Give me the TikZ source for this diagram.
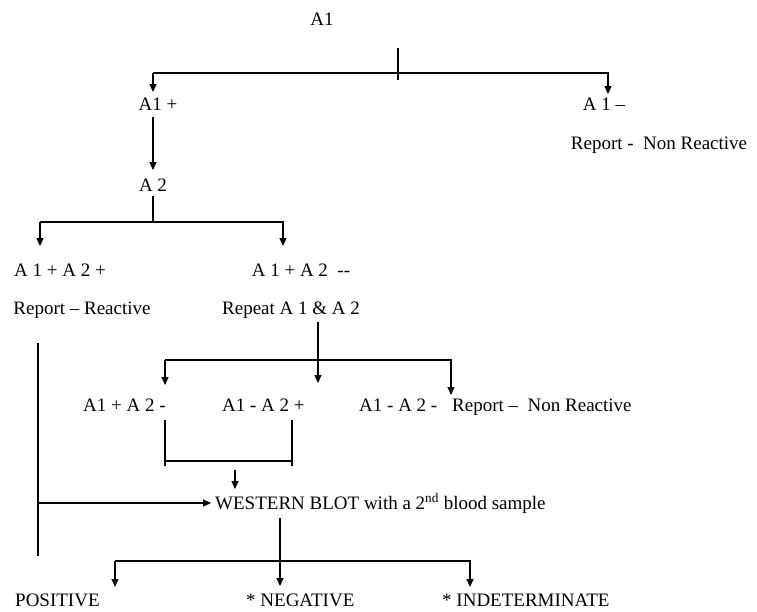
\documentclass[tikz,border=0pt]{standalone}
\usepackage{fontspec}
\setmainfont{Liberation Serif}
\usetikzlibrary{arrows.meta}
\begin{document}
\begin{tikzpicture}[x=1pt,y=-1pt,
  txt/.style={inner sep=0pt,font=\fontsize{19}{22}\selectfont},
  ln/.style={line width=1.1pt,black},
  arr/.style={ln,-{Triangle[width=7pt,length=8pt]}}]
\useasboundingbox[fill=white] (0,0) rectangle (757,611);
% text nodes
\node[txt,anchor=base] (a1) at (322,25) {A1};
\node[txt,anchor=base] (a1p) at (158,110) {A1 +};
\node[txt,anchor=base] (a1m) at (604,110) {A 1 –};
\node[txt,anchor=base] (rep1) at (659,149) {Report -\ \ Non Reactive};
\node[txt,anchor=base] (a2) at (153,191) {A 2};
\node[txt,anchor=base] (pp) at (60,276) {A 1 + A 2 +};
\node[txt,anchor=base] (pm) at (301,276) {A 1 + A 2\ \ -{}-};
\node[txt,anchor=base] (rr) at (82,314) {Report – Reactive};
\node[txt,anchor=base] (rpt) at (291,314) {Repeat A 1 \& A 2};
\node[txt,anchor=base west] (r1) at (83,411) {A1 + A 2 -};
\node[txt,anchor=base west] (r2) at (222,411) {A1 - A 2 +};
\node[txt,anchor=base west] (r3) at (359,411) {A1 - A 2 -};
\node[txt,anchor=base west] (rep2) at (452,411) {Report –\ \ Non Reactive};
\node[txt,anchor=base west] (wb) at (215,509) {WESTERN BLOT with a 2\textsuperscript{nd} blood sample};
\node[txt,anchor=base west] (pos) at (15,606) {POSITIVE};
\node[txt,anchor=base west] (neg) at (246,606) {* NEGATIVE};
\node[txt,anchor=base west] (ind) at (442,606) {* INDETERMINATE};
% junction coordinates
\coordinate (tk1) at (398,48); \coordinate (tk2) at (398,80);
\coordinate (bl) at (153,73); \coordinate (br) at (608,73);
\coordinate (blt) at (153,92); \coordinate (brt) at (608,94);
\coordinate (s1) at (153,117); \coordinate (s1t) at (153,170);
\coordinate (s2) at (153,196); \coordinate (s2j) at (153,222);
\coordinate (l2) at (40,222); \coordinate (r2j) at (283,222);
\coordinate (l2t) at (40,246); \coordinate (r2t) at (283,246);
\coordinate (s3) at (318,322); \coordinate (s3t) at (318,383);
\coordinate (l3) at (165,360); \coordinate (r3j) at (451,360);
\coordinate (l3t) at (165,385); \coordinate (r3t) at (451,395);
\coordinate (b1) at (165,420); \coordinate (b1e) at (165,466);
\coordinate (b2) at (292,420); \coordinate (b2e) at (292,466);
\coordinate (bh1) at (165,461); \coordinate (bh2) at (292,461);
\coordinate (sa) at (235,470); \coordinate (sat) at (235,489);
\coordinate (lv1) at (38,343); \coordinate (lv2) at (38,556);
\coordinate (lh) at (38,503); \coordinate (lht) at (211,503);
\coordinate (w1) at (280,518); \coordinate (w1t) at (280,586);
\coordinate (l4) at (115,561); \coordinate (r4) at (470,561);
\coordinate (l4t) at (115,587); \coordinate (r4t) at (470,587);
% connectors
\draw[ln] (tk1) -- (tk2);
\draw[arr] (bl) -- (br) -- (brt);
\draw[arr] (bl) -- (blt);
\draw[arr] (s1) -- (s1t);
\draw[ln] (s2) -- (s2j);
\draw[arr] (l2) -- (r2j) -- (r2t);
\draw[arr] (l2) -- (l2t);
\draw[arr] (s3) -- (s3t);
\draw[arr] (l3) -- (r3j) -- (r3t);
\draw[arr] (l3) -- (l3t);
\draw[ln] (b1) -- (b1e);
\draw[ln] (b2) -- (b2e);
\draw[ln] (bh1) -- (bh2);
\draw[arr] (sa) -- (sat);
\draw[ln] (lv1) -- (lv2);
\draw[arr] (lh) -- (lht);
\draw[arr] (w1) -- (w1t);
\draw[arr] (l4) -- (r4) -- (r4t);
\draw[arr] (l4) -- (l4t);
\end{tikzpicture}
\end{document}
